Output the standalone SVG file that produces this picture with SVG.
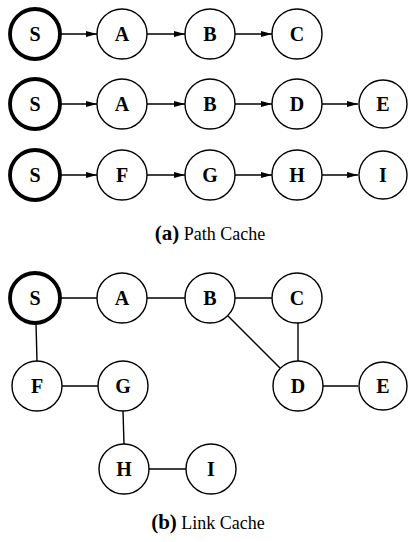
<svg xmlns="http://www.w3.org/2000/svg" width="408" height="542" viewBox="0 0 408 542">
<style>
.n{fill:#fff;stroke:#000;stroke-width:1.4}
.s{fill:#fff;stroke:#000;stroke-width:3.8}
.t{font-family:"Liberation Serif",serif;font-weight:bold;font-size:20px;text-anchor:middle;fill:#000}
.e{stroke:#000;stroke-width:1.4;fill:none}
.a{stroke:#000;stroke-width:1.4;fill:none;marker-end:url(#ah)}
.cb{font-family:"Liberation Serif",serif;font-weight:bold;font-size:21px}
.cr{font-family:"Liberation Serif",serif;font-size:18px}
</style>
<defs>
<marker id="ah" viewBox="0 0 11 6" refX="11" refY="3" markerWidth="11" markerHeight="6" markerUnits="userSpaceOnUse" orient="auto">
<path d="M0,0 L11,3 L0,6 z" fill="#000"/>
</marker>
</defs>
<g id="connectors">
<line class="a" x1="60" y1="34" x2="97" y2="34"/>
<line class="a" x1="147" y1="34" x2="185" y2="34"/>
<line class="a" x1="235" y1="34" x2="272" y2="34"/>
<line class="a" x1="60" y1="104" x2="97" y2="104"/>
<line class="a" x1="147" y1="104" x2="185" y2="104"/>
<line class="a" x1="235" y1="104" x2="272" y2="104"/>
<line class="a" x1="322" y1="104" x2="358" y2="104"/>
<line class="a" x1="60" y1="175" x2="97" y2="175"/>
<line class="a" x1="147" y1="175" x2="185" y2="175"/>
<line class="a" x1="235" y1="175" x2="272" y2="175"/>
<line class="a" x1="322" y1="175" x2="358" y2="175"/>
<line class="e" x1="60" y1="298" x2="97" y2="298"/>
<line class="e" x1="147" y1="298" x2="185" y2="298"/>
<line class="e" x1="235" y1="298" x2="272" y2="298"/>
<line class="e" x1="228" y1="316" x2="280" y2="368"/>
<line class="e" x1="298" y1="323" x2="298" y2="361"/>
<line class="e" x1="323" y1="386" x2="358" y2="386"/>
<line class="e" x1="36" y1="323" x2="37" y2="361"/>
<line class="e" x1="62" y1="386" x2="98" y2="386"/>
<line class="e" x1="123" y1="411" x2="124" y2="444"/>
<line class="e" x1="149" y1="469" x2="186" y2="469"/>
</g>
<g id="a-S1"><circle class="s" cx="35" cy="34" r="25"/><text class="t" x="35" y="41">S</text></g>
<g id="a-A1"><circle class="n" cx="122" cy="34" r="25"/><text class="t" x="122" y="41">A</text></g>
<g id="a-B1"><circle class="n" cx="210" cy="34" r="25"/><text class="t" x="210" y="41">B</text></g>
<g id="a-C1"><circle class="n" cx="297" cy="34" r="25"/><text class="t" x="297" y="41">C</text></g>
<g id="a-S2"><circle class="s" cx="35" cy="104" r="25"/><text class="t" x="35" y="111">S</text></g>
<g id="a-A2"><circle class="n" cx="122" cy="104" r="25"/><text class="t" x="122" y="111">A</text></g>
<g id="a-B2"><circle class="n" cx="210" cy="104" r="25"/><text class="t" x="210" y="111">B</text></g>
<g id="a-D2"><circle class="n" cx="297" cy="104" r="25"/><text class="t" x="297" y="111">D</text></g>
<g id="a-E2"><circle class="n" cx="383" cy="104" r="24"/><text class="t" x="383" y="111">E</text></g>
<g id="a-S3"><circle class="s" cx="35" cy="175" r="25"/><text class="t" x="35" y="182">S</text></g>
<g id="a-F3"><circle class="n" cx="122" cy="175" r="25"/><text class="t" x="122" y="182">F</text></g>
<g id="a-G3"><circle class="n" cx="210" cy="175" r="25"/><text class="t" x="210" y="182">G</text></g>
<g id="a-H3"><circle class="n" cx="297" cy="175" r="25"/><text class="t" x="297" y="182">H</text></g>
<g id="a-I3"><circle class="n" cx="383" cy="175" r="24"/><text class="t" x="383" y="182">I</text></g>
<g id="caption-a"><text x="210" y="240" text-anchor="middle"><tspan class="cb">(a)</tspan><tspan class="cr"> Path Cache</tspan></text></g>
<g id="b-S"><circle class="s" cx="35" cy="298" r="25"/><text class="t" x="35" y="305">S</text></g>
<g id="b-A"><circle class="n" cx="122" cy="298" r="25"/><text class="t" x="122" y="305">A</text></g>
<g id="b-B"><circle class="n" cx="210" cy="298" r="25"/><text class="t" x="210" y="305">B</text></g>
<g id="b-C"><circle class="n" cx="297" cy="298" r="25"/><text class="t" x="297" y="305">C</text></g>
<g id="b-F"><circle class="n" cx="37" cy="386" r="25"/><text class="t" x="37" y="393">F</text></g>
<g id="b-G"><circle class="n" cx="123" cy="386" r="25"/><text class="t" x="123" y="393">G</text></g>
<g id="b-D"><circle class="n" cx="298" cy="386" r="25"/><text class="t" x="298" y="393">D</text></g>
<g id="b-E"><circle class="n" cx="383" cy="386" r="24"/><text class="t" x="383" y="393">E</text></g>
<g id="b-H"><circle class="n" cx="124" cy="469" r="25"/><text class="t" x="124" y="476">H</text></g>
<g id="b-I"><circle class="n" cx="211" cy="469" r="25"/><text class="t" x="211" y="476">I</text></g>
<g id="caption-b"><text x="208" y="529" text-anchor="middle"><tspan class="cb">(b)</tspan><tspan class="cr"> Link Cache</tspan></text></g>
</svg>
